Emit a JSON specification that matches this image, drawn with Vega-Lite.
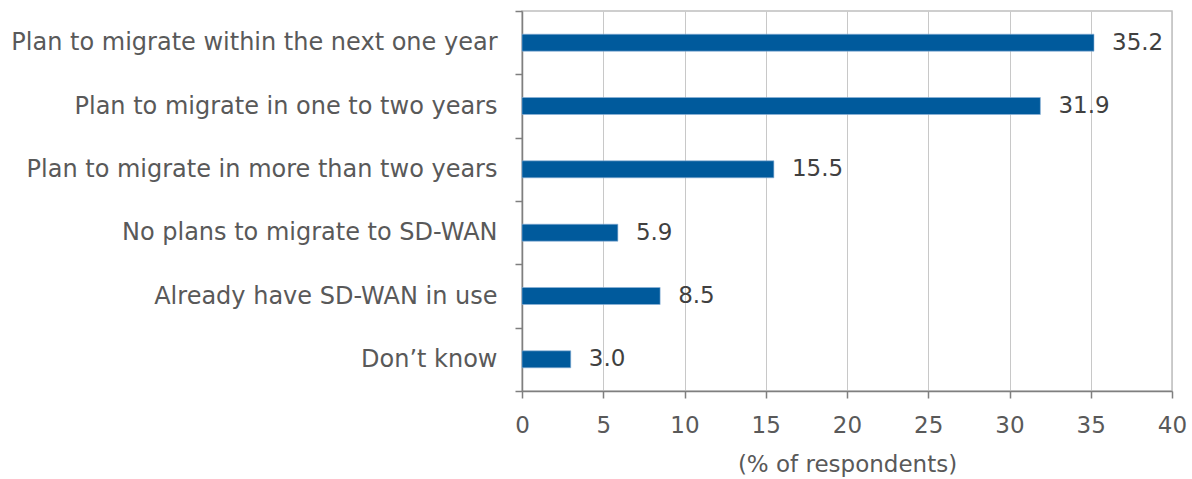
{
  "$schema": "https://vega.github.io/schema/vega-lite/v6.json",
  "width": 650,
  "height": 380,
  "autosize": {"type": "none"},
  "padding": {"left": 522, "top": 11, "right": 20, "bottom": 88},
  "background": "white",
  "config": {
    "view": {"stroke": "#bfbfbf", "strokeWidth": 1.5},
    "font": "DejaVu Sans"
  },
  "data": {
    "values": [
      {"category": "Plan to migrate within the next one year", "value": 35.2},
      {"category": "Plan to migrate in one to two years", "value": 31.9},
      {"category": "Plan to migrate in more than two years", "value": 15.5},
      {"category": "No plans to migrate to SD-WAN", "value": 5.9},
      {"category": "Already have SD-WAN in use", "value": 8.5},
      {"category": "Don\u2019t know", "value": 3.0}
    ]
  },
  "encoding": {
    "y": {
      "field": "category",
      "type": "nominal",
      "sort": null,
      "scale": {"paddingInner": 0, "paddingOuter": 0},
      "axis": {
        "title": null,
        "tickBand": "extent",
        "tickSize": 7,
        "tickColor": "#7f7f7f",
        "tickWidth": 1.5,
        "domainColor": "#7f7f7f",
        "domainWidth": 1.5,
        "labelFont": "DejaVu Sans",
        "labelFontSize": 24,
        "labelColor": "#595959",
        "labelPadding": 18,
        "labelLimit": 600,
        "grid": false
      }
    },
    "x": {
      "field": "value",
      "type": "quantitative",
      "scale": {"domain": [0, 40], "nice": false},
      "axis": {
        "title": "(% of respondents)",
        "values": [0, 5, 10, 15, 20, 25, 30, 35, 40],
        "labelFlush": false,
        "tickSize": 7,
        "tickColor": "#7f7f7f",
        "tickWidth": 1.5,
        "domainColor": "#7f7f7f",
        "domainWidth": 1.5,
        "grid": true,
        "gridColor": "#c8c8c8",
        "gridWidth": 1,
        "labelFont": "DejaVu Sans",
        "labelFontSize": 23,
        "labelColor": "#595959",
        "labelPadding": 16,
        "titleFont": "DejaVu Sans",
        "titleFontSize": 23,
        "titleFontWeight": "normal",
        "titleColor": "#595959",
        "titlePadding": 16
      }
    }
  },
  "layer": [
    {
      "mark": {"type": "bar", "size": 17, "color": "#005A9C", "stroke": "#8fb4d8", "strokeWidth": 0.6}
    },
    {
      "mark": {"type": "text", "align": "left", "baseline": "middle", "dx": 18, "font": "DejaVu Sans", "fontSize": 23, "color": "#404040"},
      "encoding": {
        "text": {"field": "value", "type": "quantitative", "format": ".1f"}
      }
    }
  ]
}
